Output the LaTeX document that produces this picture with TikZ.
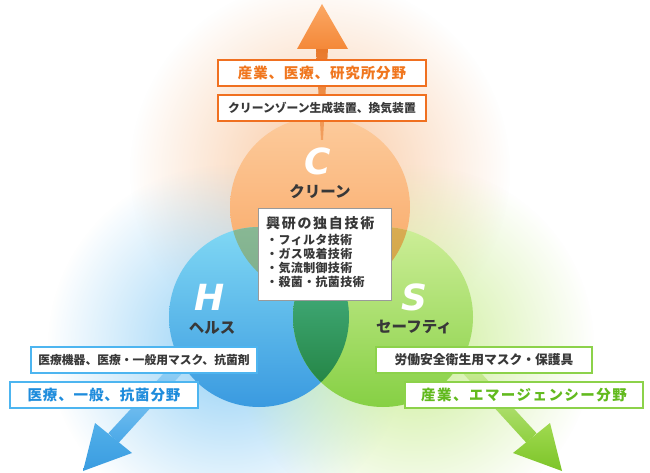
\documentclass[tikz,border=0pt]{standalone}
\usepackage{fontspec}
\setmainfont{Noto Sans CJK JP}
\newfontfamily\letf{DejaVu Sans}
\usetikzlibrary{fadings}
\tikzfading[name=glowfade, inner color=transparent!0, outer color=transparent!100]
\definecolor{glowO}{HTML}{F9C8A0}
\definecolor{glowB}{HTML}{92D0F6}
\definecolor{glowG}{HTML}{CCEE98}
\definecolor{cOt}{HTML}{FCCB9C}
\definecolor{cOb}{HTML}{F9A35E}
\definecolor{cBt}{HTML}{80D8F4}
\definecolor{cBb}{HTML}{3A9AE0}
\definecolor{cGt}{HTML}{CDEE98}
\definecolor{cGb}{HTML}{86D044}
\definecolor{iCHt}{HTML}{88B894}
\definecolor{iCHb}{HTML}{6C9A7A}
\definecolor{iCSt}{HTML}{D8AC52}
\definecolor{iCSb}{HTML}{C7952E}
\definecolor{iHSt}{HTML}{52C096}
\definecolor{iHSb}{HTML}{1E7D3A}
\definecolor{bordO}{HTML}{F07020}
\definecolor{bordB}{HTML}{4DB5F0}
\definecolor{bordG}{HTML}{8CD24A}
\definecolor{txtO}{HTML}{F0761E}
\definecolor{txtB}{HTML}{1E8CDC}
\definecolor{txtG}{HTML}{62BA1E}
\definecolor{txtD}{HTML}{383838}
\definecolor{bordC}{HTML}{9A9A9A}
\definecolor{aOst}{HTML}{E8782A}
\definecolor{aOsb}{HTML}{F2A060}
\definecolor{aOht}{HTML}{FBA865}
\definecolor{aOhb}{HTML}{F48838}
\definecolor{aBst}{HTML}{9AD4F6}
\definecolor{aBsb}{HTML}{4AA8E8}
\definecolor{aBht}{HTML}{52B0EA}
\definecolor{aBhb}{HTML}{3A9CE0}
\definecolor{aGst}{HTML}{D0EEA0}
\definecolor{aGsb}{HTML}{8FD040}
\definecolor{aGht}{HTML}{A0DA50}
\definecolor{aGhb}{HTML}{7CC428}
\begin{document}
\begin{tikzpicture}[x=1pt,y=-1pt,
  boxbase/.style={fill=white, line width=2pt, inner sep=0pt, minimum height=26pt},
  obox/.style={boxbase, draw=bordO},
  bbox/.style={boxbase, draw=bordB},
  gbox/.style={boxbase, draw=bordG},
  bigtxt/.style={font=\fontsize{14.5}{16}\selectfont\bfseries\addfontfeature{LetterSpace=6}},
  smalltxt/.style={font=\fontsize{11.8}{13}\selectfont\bfseries, text=txtD},
  letter/.style={font=\letf\bfseries\itshape\fontsize{36}{36}\selectfont, text=white, inner sep=0pt},
  circlbl/.style={font=\fontsize{15.5}{17}\selectfont\bfseries, text=txtD, inner sep=0pt},
  bullet/.style={font=\fontsize{12}{13}\selectfont\bfseries\addfontfeature{LetterSpace=3}, text=txtD, anchor=west, inner sep=0pt}
]
\useasboundingbox (0,0) rectangle (650,473);
\fill[white] (0,0) rectangle (650,473);
% centres
\coordinate (cC) at (320,207);
\coordinate (cH) at (259,317);
\coordinate (cS) at (383,317);
% glows
\fill[glowO, path fading=glowfade] (320,170) circle (190pt);
\fill[glowB, path fading=glowfade] (228,345) circle (180pt);
\fill[glowG, path fading=glowfade] (414,345) circle (180pt);
% circles
\shade[top color=cOt, bottom color=cOb] (cC) circle (90pt);
\shade[top color=cBt, bottom color=cBb] (cH) circle (90pt);
\shade[top color=cGt, bottom color=cGb] (cS) circle (90pt);
\begin{scope}
  \clip (cC) circle (90pt);
  \shade[top color=iCHt, bottom color=iCHb] (cH) circle (90pt);
  \shade[top color=iCSt, bottom color=iCSb] (cS) circle (90pt);
\end{scope}
\begin{scope}
  \clip (cH) circle (90pt);
  \shade[top color=iHSt, bottom color=iHSb] (cS) circle (90pt);
\end{scope}
% top arrow
\shade[top color=aOst, bottom color=aOsb] (316,48) -- (328,48) -- (323,140) -- (321,140) -- cycle;
\shade[top color=aOht, bottom color=aOhb] (322,4) -- (348,49) -- (297,49) -- cycle;
% left arrow
\shade[top color=aBst, bottom color=aBsb] (176,360) -- (186,369) -- (118.6,442.8) -- (108.4,433.2) -- cycle;
\shade[top color=aBht, bottom color=aBhb] (95,423) -- (132,453) -- (83,471) -- cycle;
% right arrow
\shade[top color=aGst, bottom color=aGsb] (469,360) -- (459,369) -- (526.4,442.8) -- (536.6,433.2) -- cycle;
\shade[top color=aGht, bottom color=aGhb] (550,423) -- (513,453) -- (562,471) -- cycle;
% top boxes
\node[obox, minimum width=208pt] (o1) at (322,73) {};
\node[bigtxt, text=txtO] (o1t) at (o1) {産業、医療、研究所分野};
\node[obox, minimum width=208pt] (o2) at (322,108) {};
\node[smalltxt] (o2t) at (o2) {クリーンゾーン生成装置、換気装置};
% letters and labels
\node[letter] (lc) at (318,161) {C};
\node[circlbl] (lcl) at (320,192) {クリーン};
\node[letter] (lh) at (210,297) {H};
\node[circlbl] (lhl) at (212,328) {ヘルス};
\node[letter] (ls) at (414,297) {S};
\node[circlbl] (lsl) at (414,327) {セーフティ};
% centre box
\node[draw=bordC, line width=1.2pt, fill=white, minimum width=133pt, minimum height=92pt, inner sep=0pt] (cb) at (325,254.5) {};
\node[font=\fontsize{14}{15}\selectfont\bfseries\addfontfeature{LetterSpace=12}, text=txtD, anchor=west, inner sep=0pt] (cbt) at (266,223) {興研の独自技術};
\node[bullet] (b1) at (266,240) {・フィルタ技術};
\node[bullet] (b2) at (266,254) {・ガス吸着技術};
\node[bullet] (b3) at (266,268) {・気流制御技術};
\node[bullet] (b4) at (266,282) {・殺菌・抗菌技術};
% blue boxes
\node[bbox, minimum width=226pt] (h1) at (144,360) {};
\node[smalltxt] (h1t) at (h1) {医療機器、医療・一般用マスク、抗菌剤};
\node[bbox, minimum width=188pt] (h2) at (104,395) {};
\node[bigtxt, text=txtB] (h2t) at (104,395) {医療、一般、抗菌分野};
% green boxes
\node[gbox, minimum width=216pt] (s1) at (484,359.5) {};
\node[font=\fontsize{12.8}{14}\selectfont\bfseries, text=txtD] (s1t) at (s1) {労働安全衛生用マスク・保護具};
\node[gbox, minimum width=238pt] (s2) at (524,395) {};
\node[text=txtG, font=\fontsize{14.5}{16}\selectfont\bfseries\addfontfeature{LetterSpace=10}] (s2t) at (s2) {産業、エマージェンシー分野};
\end{tikzpicture}
\end{document}
